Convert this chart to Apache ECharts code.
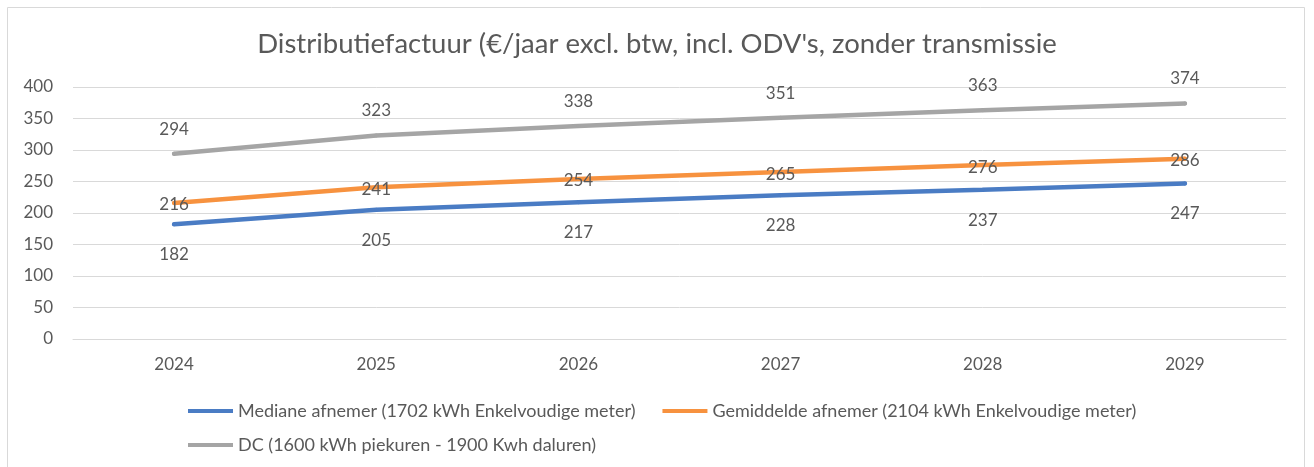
<!DOCTYPE html>
<html><head><meta charset="utf-8">
<script src="https://cdn.jsdelivr.net/npm/echarts@6/dist/echarts.min.js"></script>
<style>html,body{margin:0;padding:0;background:#fff}#c{width:1314px;height:467px}</style>
</head><body><div id="c"></div>
<script>
const categories = ['2024','2025','2026','2027','2028','2029'];
const mediane = [182,205,217,228,237,247];
const gemiddelde = [216,241,254,265,276,286];
const dc = [294,323,338,351,363,374];
const seriesNames = ['Mediane afnemer (1702 kWh Enkelvoudige meter)','Gemiddelde afnemer (2104 kWh Enkelvoudige meter)','DC (1600 kWh piekuren - 1900 Kwh daluren)'];
const titleText = "Distributiefactuur (€/jaar excl. btw, incl. ODV's, zonder transmissie";

const FONT = 'Lato, sans-serif';
const TXT = '#595959';
const chart = echarts.init(document.getElementById('c'), null, {renderer:'canvas'});
const legendBase = {icon:'rect', itemWidth:45, itemHeight:4, itemGap:27, textStyle:{color:TXT, fontFamily:FONT, fontSize:18}};
function lbl(pos, dy){return {show:true, position:pos, offset:[0,dy], color:TXT, fontFamily:FONT, fontSize:17};}
function ser(i, data, color, label){
  return {name:seriesNames[i], type:'line', data:data, symbol:'circle', symbolSize:4, showSymbol:true,
    lineStyle:{color:color, width:4.5, cap:'round'}, itemStyle:{color:color}, label:label, z:2+i};
}
chart.setOption({
  animation:false,
  graphic:[{type:'rect', shape:{x:7.5,y:7.5,width:1297,height:470}, style:{fill:'none', stroke:'#d9d9d9', lineWidth:1}, silent:true}],
  title:{text:titleText, left:'center', top:25, textStyle:{color:TXT, fontFamily:FONT, fontSize:27.5, fontWeight:'normal'}},
  legend:[
    Object.assign({data:[seriesNames[0],seriesNames[1]], left:183, top:397}, legendBase),
    Object.assign({data:[seriesNames[2]], left:183, top:431}, legendBase)
  ],
  grid:{left:73, right:28, top:87, bottom:128},
  xAxis:{type:'category', data:categories, boundaryGap:true, axisLine:{lineStyle:{color:'#d9d9d9'}}, axisTick:{show:false},
    axisLabel:{color:TXT, fontFamily:FONT, fontSize:17, margin:17}},
  yAxis:{type:'value', min:0, max:400, interval:50, axisLine:{show:false}, axisTick:{show:false},
    splitLine:{lineStyle:{color:'#d9d9d9', width:1}},
    axisLabel:{color:TXT, fontFamily:FONT, fontSize:17, margin:20}},
  series:[
    ser(0, mediane, '#4A7CC4', lbl('bottom', 15)),
    ser(1, gemiddelde, '#F7923F', lbl('inside', 2)),
    ser(2, dc, '#A5A5A5', lbl('top', -9))
  ]
});
</script></body></html>
